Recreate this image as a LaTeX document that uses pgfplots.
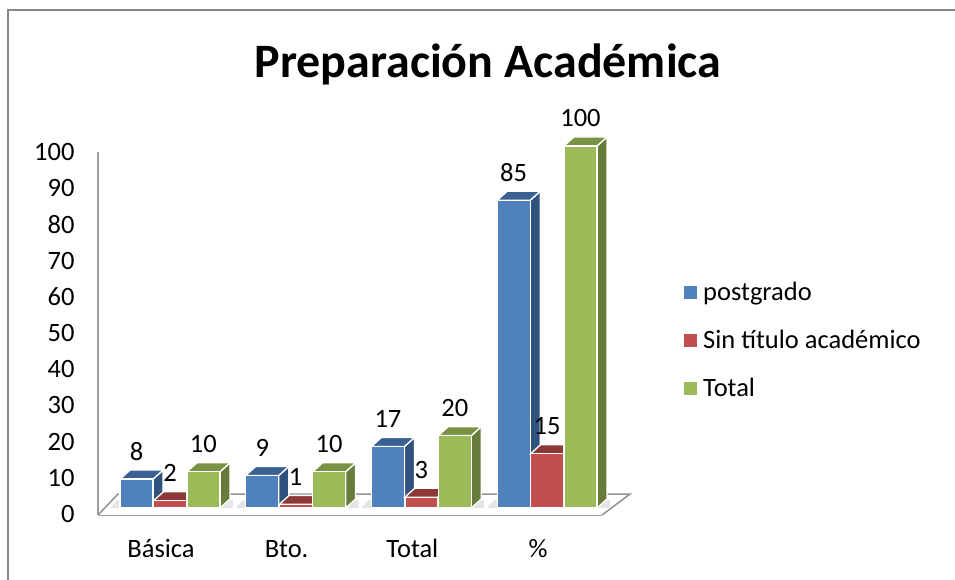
\documentclass[border=0pt]{standalone}
\usepackage{fontspec}
\setmainfont{Carlito}
\usepackage{pgfplots}
\pgfplotsset{compat=1.18}
\definecolor{cblue}{HTML}{4F81BD}\definecolor{cred}{HTML}{C0504D}\definecolor{cgreen}{HTML}{9BBB59}
\definecolor{sblue}{HTML}{30527F}\definecolor{tblue}{HTML}{3A6192}
\definecolor{sred}{HTML}{8C3836}\definecolor{tred}{HTML}{8C3836}
\definecolor{sgreen}{HTML}{677C3A}\definecolor{tgreen}{HTML}{7A9243}
\definecolor{fr}{HTML}{868686}
\newcommand\fnt{\fontsize{26.5}{32}\selectfont}
% #1 category, #2 bar shift in px, #3 value, #4 side colour, #5 top colour
\newcommand\faces[5]{%
  \pgfmathsetmacro\xa{#1+(#2+16.5)/125.7}%
  \pgfmathsetmacro\xb{\xa+10/125.7}%
  \pgfmathsetmacro\xc{#1+(#2-16.5)/125.7}%
  \pgfmathsetmacro\xd{\xc+10/125.7}%
  \pgfmathsetmacro\yz{9/3.62}%
  \pgfmathsetmacro\yb{#3+\yz}%
  \edef\tmp{\noexpand\addplot[forget plot,fill=#4,draw=white,line width=1.3pt] coordinates {(\xa,0)(\xb,\yz)(\xb,\yb)(\xa,#3)} --cycle;
  \noexpand\addplot[forget plot,fill=#5,draw=white,line width=1.3pt] coordinates {(\xc,#3)(\xd,\yb)(\xb,\yb)(\xa,#3)} --cycle;}%
  \tmp}
\pgfplotsset{barlab/.style={nodes near coords,
  every node near coord/.append style={font=\fnt,anchor=center,yshift=27.5pt,xshift=#1,text=black}}}
\begin{document}
\begin{tikzpicture}[x=1pt,y=1pt]
\path[use as bounding box] (0,0) rectangle (955,580);
\draw[fr,line width=1.5pt] (8,0) -- (8,570) -- (955,570);
\begin{axis}[
  at={(98pt,65pt)},anchor=south west,scale only axis,width=504pt,height=369pt,
  clip=false,
  xmin=-0.573,xmax=3.437,ymin=-1.93,ymax=100,
  axis x line=bottom,axis y line=left,
  x axis line style={-,draw=fr!80,line width=2.2pt},
  y axis line style={-,draw=none},
  xtick={0,1,2,3},xticklabels={Básica,Bto.,Total,\%},
  ytick={0,10,...,100},
  major tick length=0pt,
  /pgf/number format/assume math mode=true,
  tick label style={font=\fnt},
  xticklabel style={xshift=-9pt,yshift=-21pt,text height=18pt,text depth=6pt},
  yticklabel style={yshift=-6pt,xshift=-20pt},
  title={\textbf{Preparación Académica}},
  title style={at={(0.7738,1.206)},anchor=center,font=\fontsize{48}{54}\selectfont},
  legend style={draw=none,fill=none,at={(1.1567,0.642)},anchor=north west,font=\fnt,row sep=24pt,
    /tikz/every even column/.append style={column sep=0pt}},
  legend cell align=left,
]
% left wall edge
\addplot[forget plot,draw=fr!80,line width=2.2pt] coordinates {(-0.573,-1.93)(-0.573,98.4)};
% floor
\addplot[forget plot,draw=none,fill=white] coordinates {(-0.573,-1.93)(-0.414,3.87)(3.66,3.87)(3.437,-1.93)} --cycle;
\addplot[forget plot,draw=fr!90,line width=1.5pt] coordinates {(-0.573,-1.93)(-0.414,3.87)(3.66,3.87)(3.437,-1.93)};
% soft shadows on the floor
\addplot[forget plot,draw=none,fill=black!10] coordinates {(-0.477,0)(-0.42,2.2)(0.50,2.2)(0.50,0)} --cycle;
\addplot[forget plot,draw=none,fill=black!10] coordinates {(0.523,0)(0.58,2.2)(1.50,2.2)(1.50,0)} --cycle;
\addplot[forget plot,draw=none,fill=black!10] coordinates {(1.523,0)(1.58,2.2)(2.50,2.2)(2.50,0)} --cycle;
\addplot[forget plot,draw=none,fill=black!10] coordinates {(2.523,0)(2.58,2.2)(3.50,2.2)(3.50,0)} --cycle;
% blue
\faces{0}{-33.4}{8}{sblue}{tblue}\faces{1}{-33.4}{9}{sblue}{tblue}\faces{2}{-33.4}{17}{sblue}{tblue}\faces{3}{-33.4}{85}{sblue}{tblue}
\addplot[ybar,barlab=-33.4pt,bar width=33pt,bar shift=-33.4pt,fill=cblue,draw=white,line width=1.3pt,
  legend image code/.code={\path[draw=none,fill=none] (0,0) -- (17pt,0);\path[draw=none,fill=cblue] (0,-6.5pt) rectangle (13pt,6.5pt);}]
  coordinates {(0,8)(1,9)(2,17)(3,85)};
\addlegendentry{postgrado}
% red
\faces{0}{0}{2}{sred}{tred}\faces{1}{0}{1}{sred}{tred}\faces{2}{0}{3}{sred}{tred}\faces{3}{0}{15}{sred}{tred}
\addplot[ybar,barlab=0pt,bar width=33pt,bar shift=0pt,fill=cred,draw=white,line width=1.3pt,
  legend image code/.code={\path[draw=none,fill=none] (0,0) -- (17pt,0);\path[draw=none,fill=cred] (0,-6.5pt) rectangle (13pt,6.5pt);}]
  coordinates {(0,2)(1,1)(2,3)(3,15)};
\addlegendentry{Sin título académico}
% green
\faces{0}{33.4}{10}{sgreen}{tgreen}\faces{1}{33.4}{10}{sgreen}{tgreen}\faces{2}{33.4}{20}{sgreen}{tgreen}\faces{3}{33.4}{100}{sgreen}{tgreen}
\addplot[ybar,barlab=33.4pt,bar width=33pt,bar shift=33.4pt,fill=cgreen,draw=white,line width=1.3pt,
  legend image code/.code={\path[draw=none,fill=none] (0,0) -- (17pt,0);\path[draw=none,fill=cgreen] (0,-6.5pt) rectangle (13pt,6.5pt);}]
  coordinates {(0,10)(1,10)(2,20)(3,100)};
\addlegendentry{Total}
\end{axis}
\end{tikzpicture}
\end{document}
